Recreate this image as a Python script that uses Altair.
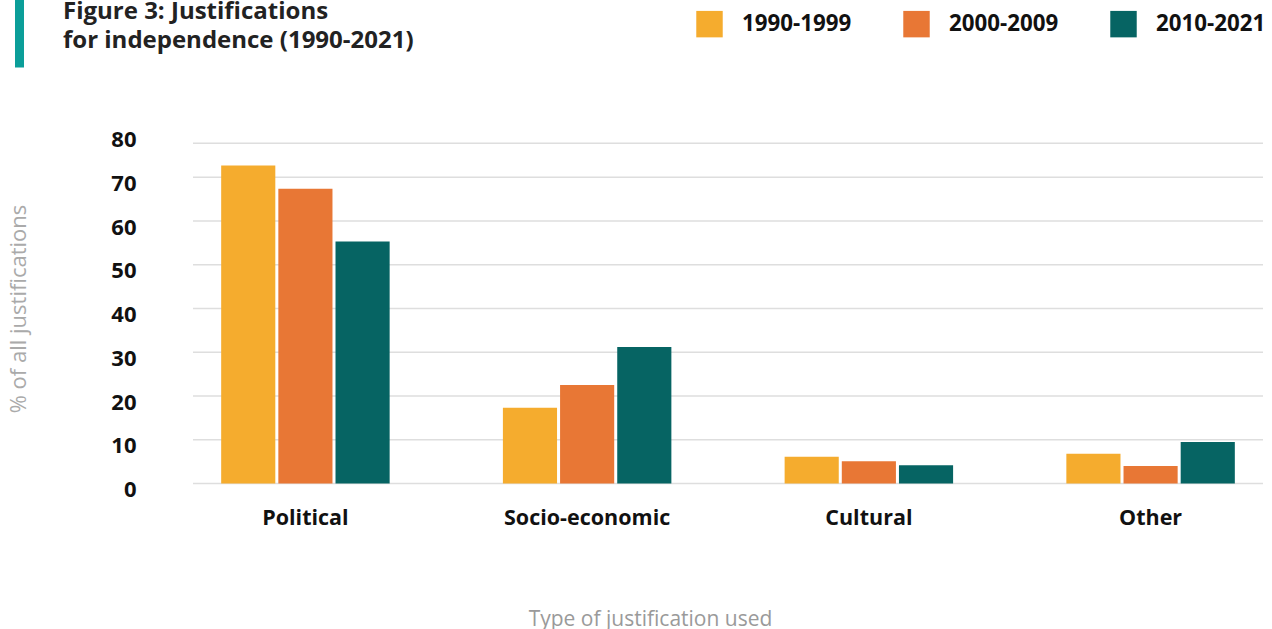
import altair as alt
import pandas as pd

categories = ["Political", "Socio-economic", "Cultural", "Other"]
periods = ["1990-1999", "2000-2009", "2010-2021"]
v1990 = [72.7, 17.3, 6.1, 6.8]
v2000 = [67.4, 22.5, 5.1, 4.0]
v2010 = [55.3, 31.2, 4.2, 9.5]
colors = ["#F5AC2E", "#E87735", "#066463"]
y_ticks = [0, 10, 20, 30, 40, 50, 60, 70, 80]
grid_lines = [0, 10, 20, 30, 40, 50, 60, 70, 77.8]
title_lines = ["Figure 3: Justifications", "for independence (1990-2021)"]

rows = []
for p, vals in zip(periods, [v1990, v2000, v2010]):
    for c, v in zip(categories, vals):
        rows.append({"category": c, "period": p, "value": v})
df = pd.DataFrame(rows)

FONT = "Open Sans"

yscale = alt.Scale(domain=[0, 80], nice=False)
yaxis = alt.Axis(
    title="% of all justifications",
    values=y_ticks,
    labelFont=FONT,
    labelFontSize=22,
    labelFontWeight="bold",
    labelColor="#111111",
    labelPadding=57,
    labelOffset=6,
    domain=False,
    ticks=False,
    grid=False,
    titleFont=FONT,
    titleFontSize=22,
    titleFontWeight="normal",
    titleColor="#aaaaaa",
    titleX=-175,
    titleY=175,
    titleAngle=-90,
    titleAlign="center",
    titleBaseline="middle",
)

grid = alt.Chart(pd.DataFrame({"g": grid_lines})).mark_rule(
    color="#dedede", strokeWidth=1.5
).encode(y=alt.Y("g:Q", scale=yscale, axis=yaxis, title="% of all justifications"))

bars = alt.Chart(df).mark_bar().encode(
    x=alt.X(
        "category:N",
        sort=categories,
        scale=alt.Scale(paddingInner=0.402, paddingOuter=0.1),
        axis=alt.Axis(
            title="Type of justification used",
            labelAngle=0,
            labelFont=FONT,
            labelFontSize=21.5,
            labelFontWeight="bold",
            labelColor="#111111",
            labelPadding=24,
            domain=False,
            ticks=False,
            grid=False,
            titleFont=FONT,
            titleFontSize=21,
            titleFontWeight="normal",
            titleColor="#9a9a9a",
            titleX=457,
            titleY=142,
            titleAnchor="middle",
            titleAlign="center",
            titleBaseline="alphabetic",
        ),
    ),
    xOffset=alt.XOffset(
        "period:N", sort=periods, scale=alt.Scale(paddingInner=0.053, paddingOuter=0)
    ),
    y=alt.Y("value:Q", scale=yscale, axis=yaxis, title="% of all justifications"),
    color=alt.Color(
        "period:N",
        sort=periods,
        scale=alt.Scale(domain=periods, range=colors),
        legend=alt.Legend(
            title=None,
            orient="none",
            direction="horizontal",
            legendX=503,
            legendY=-123,
            symbolType="square",
            symbolSize=700,
            symbolStrokeWidth=0,
            symbolOpacity=1,
            labelFont=FONT,
            labelFontSize=22.3,
            labelFontWeight="bold",
            labelColor="#111111",
            labelOffset=19,
            columnPadding=51,
            padding=0,
        ),
    ),
)

title_df = pd.DataFrame({"t": [title_lines]})
title = alt.Chart(title_df).mark_text(
    align="left",
    baseline="alphabetic",
    font=FONT,
    fontSize=24,
    fontWeight="bold",
    color="#222222",
    lineHeight=29.5,
).encode(x=alt.value(-130), y=alt.value(-115), text="t")

accent = alt.Chart(pd.DataFrame({"a": [0]})).mark_rect(color="#0B9E99").encode(
    x=alt.value(-178), x2=alt.value(-169), y=alt.value(-134), y2=alt.value(-66)
)

chart = alt.layer(grid, bars, accent, title).properties(
    width=1070,
    height=350,
    background="white",
    autosize=alt.AutoSizeParams(type="none"),
    padding={"left": 193, "top": 133.5, "right": 9, "bottom": 145.5},
).configure_view(stroke=None)

chart.save("out.html", embed_options={"renderer": "svg", "actions": False})
